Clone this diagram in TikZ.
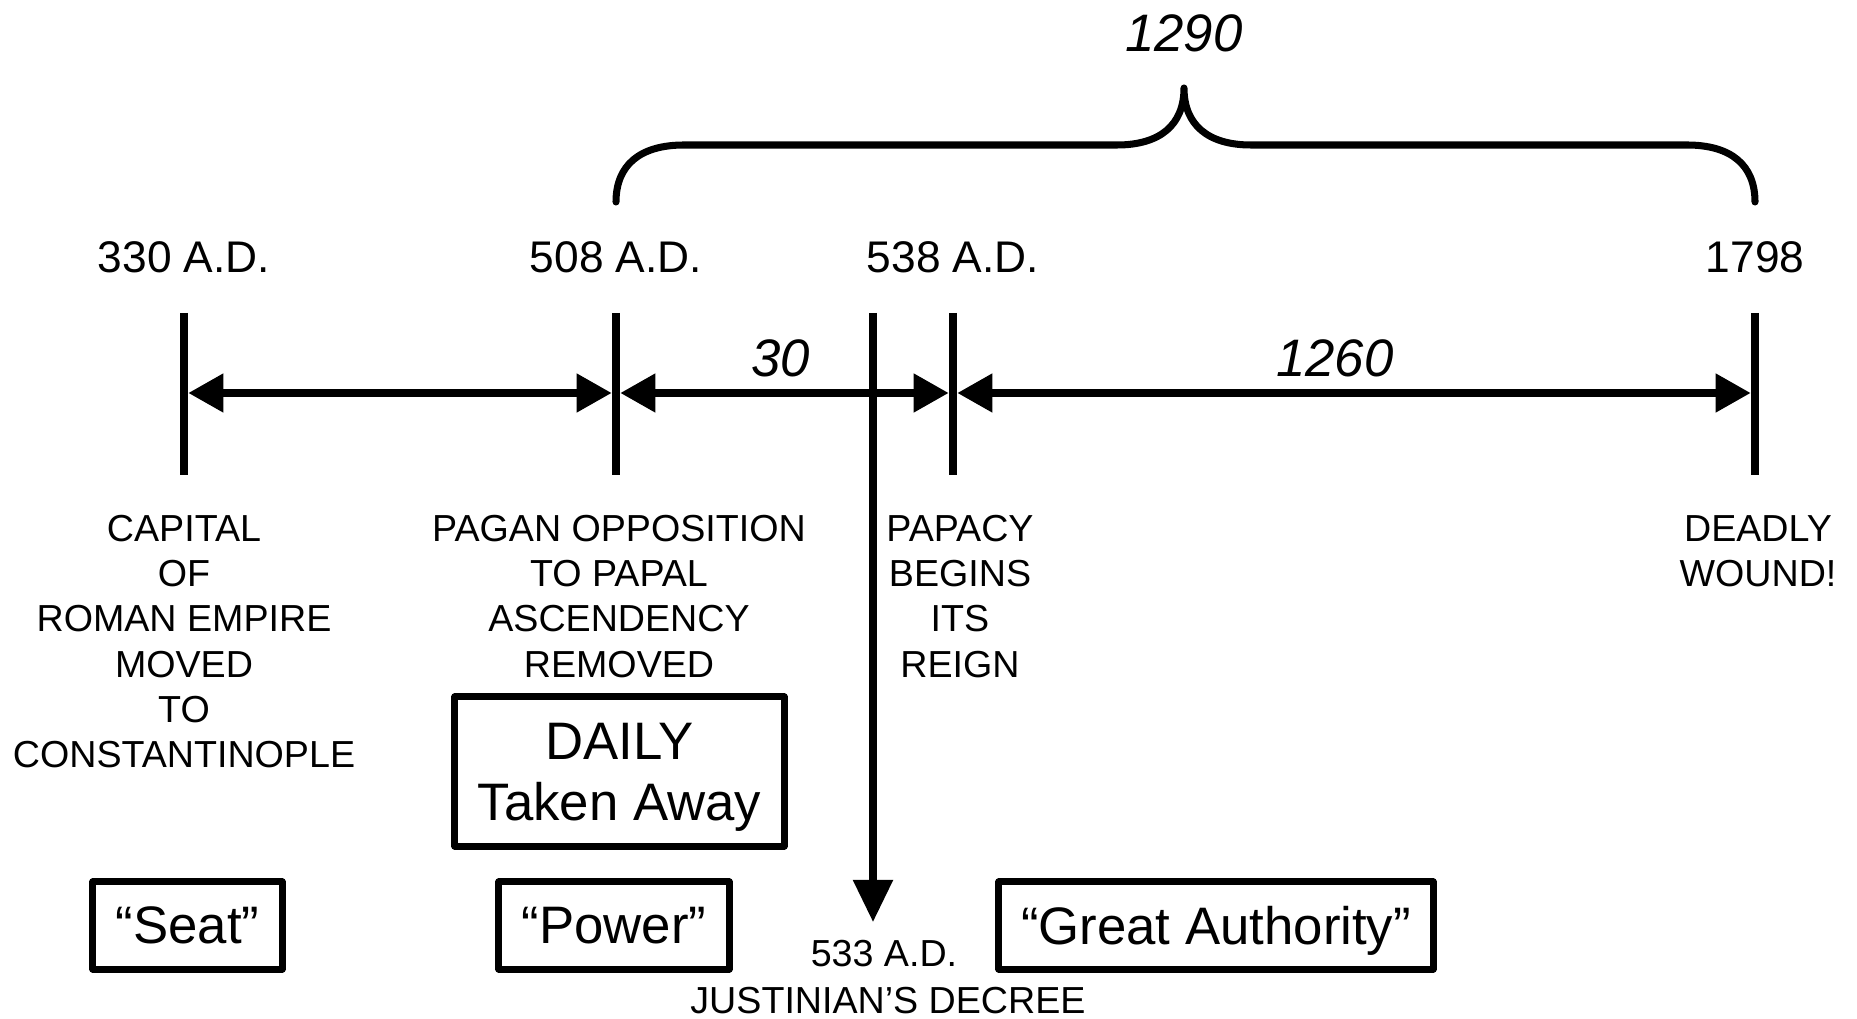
\documentclass[tikz,border=0pt]{standalone}
\usepackage{fontspec}
\setmainfont{Liberation Sans}
\usetikzlibrary{arrows.meta}
\tikzset{
	datelbl/.style={anchor=base, font=\fontsize{12.6}{14}\selectfont},
	spanlbl/.style={anchor=base, font=\fontsize{15}{18}\selectfont\itshape},
	eventtxt/.style={anchor=north, align=center, inner sep=0pt, font=\fontsize{10.7}{12.8}\selectfont},
	keybox/.style={draw, line width=2pt, inner sep=0pt, align=center, text depth=0pt, font=\fontsize{15}{17.4}\selectfont},
	tickline/.style={line width=2.3pt},
	span/.style={line width=2.3pt, shorten <=1.2pt, shorten >=1.2pt, {Triangle[length=10pt,width=10.5pt]}-{Triangle[length=10pt,width=10.5pt]}},
}
\begin{document}
\begin{tikzpicture}[x=0.01cm, y=-0.01cm, line join=round]
	\def\ytop{313} \def\ybot{475} \def\yarr{393}
	\useasboundingbox (0,0) rectangle (1857,1019);
	%ticks and dates
	\foreach \d/\x in {330 A.D./184, 508 A.D./616, 538 A.D./953, 1798/1755}{
		\draw[tickline] (\x,\ytop)--(\x,\ybot);
		\node[datelbl] at (\x,273) {\d};
	}
	\coordinate (p330) at (184,\yarr);
	\coordinate (p508) at (616,\yarr);
	\coordinate (p538) at (953,\yarr);
	\coordinate (p1798) at (1755,\yarr);
	\draw[span] (p330)--(p508);
	\draw[span] (p508)--(p538);
	\draw[span] (p538)--(p1798);
	\node[spanlbl] (n30) at (781,377) {30};
	\node[spanlbl] (n1260) at (1335,377) {1260};
	%brace 1290
	\draw[line width=2pt, line cap=round] (616,202) .. controls (616,165) and (640,145) .. (684,145)
		-- (1117,145) .. controls (1160,145) and (1184,125) .. (1184,88)
		.. controls (1184,125) and (1208,145) .. (1251,145)
		-- (1687,145) .. controls (1731,145) and (1755,165) .. (1755,202);
	\node[spanlbl] (n1290) at (1184,52) {1290};
	%decree
	\coordinate (jtop) at (873,\ytop);
	\coordinate (jend) at (873,922);
	\draw[line width=2pt, -{Triangle[length=12pt,width=11pt]}] (jtop)--(jend);
	\node[anchor=base, font=\fontsize{10.7}{12}\selectfont] (y533) at (884,966) {533 A.D.};
	\node[anchor=base, font=\fontsize{10.7}{12.8}\selectfont] (decree) at (888,1014) {JUSTINIAN’S DECREE};
	%events
	\node[eventtxt] (capital) at (184,515) {CAPITAL\\OF\\ROMAN EMPIRE\\MOVED\\TO\\CONSTANTINOPLE};
	\node[eventtxt] (pagan) at (619,515) {PAGAN OPPOSITION\\TO PAPAL\\ASCENDENCY\\REMOVED};
	\node[eventtxt] (papacy) at (960,515) {PAPACY\\BEGINS\\ITS\\REIGN};
	\node[eventtxt] (deadly) at (1758,515) {DEADLY\\WOUND!};
	%boxes
	\node[keybox, minimum width=3.29cm, minimum height=1.49cm] (daily) at (619.5,771.5) {DAILY\\Taken Away};
	\node[keybox, minimum width=1.89cm, minimum height=0.87cm] (seat) at (187.5,925.5) {“Seat”};
	\node[keybox, minimum width=2.30cm, minimum height=0.87cm] (power) at (614,925.5) {“Power”};
	\node[keybox, minimum width=4.34cm, minimum height=0.87cm] (great) at (1216,925.5) {“Great Authority”};
\end{tikzpicture}
\end{document}
